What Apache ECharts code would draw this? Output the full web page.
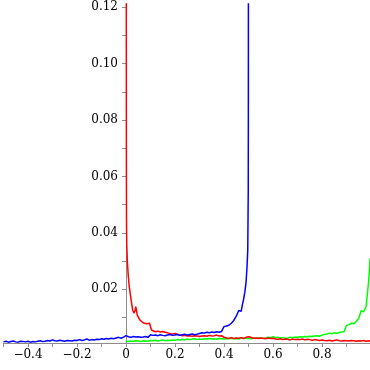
<!DOCTYPE html>
<html>
<head>
<meta charset="utf-8">
<script src="https://cdn.jsdelivr.net/npm/echarts@6/dist/echarts.min.js"></script>
<style>
html,body{margin:0;padding:0;background:#fff;}
#chart{width:370px;height:370px;}
</style>
</head>
<body>
<div id="chart"></div>
<script>
// shared sample positions (x)
const xs = [
-0.50,-0.49,-0.48,-0.47,-0.46,-0.45,-0.44,-0.43,-0.42,-0.41,
-0.40,-0.39,-0.38,-0.37,-0.36,-0.35,-0.34,-0.33,-0.32,-0.31,
-0.30,-0.29,-0.28,-0.27,-0.26,-0.25,-0.24,-0.23,-0.22,-0.21,
-0.20,-0.19,-0.18,-0.17,-0.16,-0.15,-0.14,-0.13,-0.12,-0.11,
-0.10,-0.09,-0.08,-0.07,-0.06,-0.05,-0.04,-0.03,-0.02,-0.01,
0.00,0.01,0.02,0.03,0.04,0.05,0.06,0.07,0.08,0.09,
0.10,0.11,0.12,0.13,0.14,0.15,0.16,0.17,0.18,0.19,
0.20,0.21,0.22,0.23,0.24,0.25,0.26,0.27,0.28,0.29,
0.30,0.31,0.32,0.33,0.34,0.35,0.36,0.37,0.38,0.39,
0.40,0.41,0.42,0.43,0.44,0.45,0.46,0.47,0.48,0.49,
0.50,0.51,0.52,0.53,0.54,0.55,0.56,0.57,0.58,0.59,
0.60,0.61,0.62,0.63,0.64,0.65,0.66,0.67,0.68,0.69,
0.70,0.71,0.72,0.73,0.74,0.75,0.76,0.77,0.78,0.79,
0.80,0.81,0.82,0.83,0.84,0.85,0.86,0.87,0.88,0.89,
0.90,0.91,0.92,0.93,0.94,0.95,0.96,0.97,0.98,0.99
];

// blue: values at xs -0.50 .. 0.49
const blueMain = [
0.0014,0.0016,0.0013,0.0015,0.0017,0.0014,0.0013,0.0016,0.0015,0.0014,
0.0016,0.0013,0.0015,0.0014,0.0016,0.0018,0.0015,0.0016,0.0019,0.0017,
0.0021,0.0018,0.0017,0.0020,0.0018,0.0016,0.0019,0.0018,0.0017,0.0020,
0.0019,0.0022,0.0019,0.0021,0.0024,0.0020,0.0022,0.0021,0.0023,0.0022,
0.0025,0.0023,0.0026,0.0024,0.0027,0.0025,0.0028,0.0030,0.0027,0.0031,
0.0036,0.0032,0.0030,0.0033,0.0031,0.0032,0.0030,0.0031,0.0033,0.0030,
0.0039,0.0037,0.0038,0.0036,0.0039,0.0037,0.0036,0.0038,0.0040,0.0037,
0.0038,0.0040,0.0037,0.0039,0.0041,0.0038,0.0040,0.0042,0.0039,0.0041,
0.0044,0.0046,0.0045,0.0048,0.0046,0.0049,0.0047,0.0050,0.0048,0.0051,
0.0068,0.0070,0.0073,0.0080,0.0090,0.0105,0.0125,0.0122,0.0165,0.0225
];
const blueTailX = [0.475, 0.485, 0.494, 0.497, 0.499, 0.4995, 0.4998];
const blueTailY = [0.0145, 0.0190, 0.0280, 0.0340, 0.0550, 0.0900, 0.2000];

// red: steep head near 0, then values at xs 0.11 .. 0.99
const redHeadX = [0.0008,0.0015,0.002,0.003,0.0053,0.009,0.0135,0.019,0.023,0.027,0.033,0.037,0.040,0.046,0.051,0.057,0.065,0.071,0.078,0.084,0.091,0.096,0.101,0.104];
const redHeadY = [0.2000,0.0700,0.0450,0.0360,0.0304,0.0250,0.0209,0.0174,0.0150,0.0127,0.0116,0.0125,0.0139,0.0109,0.0100,0.0091,0.0085,0.0081,0.0074,0.0078,0.0077,0.0080,0.0082,0.0056];
const redMain = [
0.0053,0.0050,0.0052,0.0049,0.0051,0.0048,0.0046,0.0043,0.0042,0.0044,
0.0041,0.0038,0.0036,0.0037,0.0035,0.0036,0.0034,0.0036,0.0035,0.0033,
0.0035,0.0036,0.0034,0.0037,0.0035,0.0036,0.0038,0.0035,0.0036,0.0030,
0.0028,0.0027,0.0029,0.0026,0.0028,0.0027,0.0029,0.0026,0.0030,0.0032,
0.0030,0.0027,0.0028,0.0026,0.0028,0.0027,0.0025,0.0028,0.0026,0.0027,
0.0024,0.0023,0.0025,0.0022,0.0024,0.0023,0.0021,0.0024,0.0022,0.0023,
0.0022,0.0024,0.0021,0.0023,0.0022,0.0020,0.0022,0.0021,0.0019,0.0021,
0.0019,0.0018,0.0020,0.0017,0.0019,0.0021,0.0018,0.0017,0.0019,0.0018,
0.0017,0.0019,0.0018,0.0016,0.0018,0.0017,0.0019,0.0016,0.0018
];
const redEndX = [0.999];
const redEndY = [0.0017];

// green: values at xs 0.00 .. 0.99, then steep tail near 1
const greenMain = [
0.0016,0.0015,0.0017,0.0016,0.0018,0.0017,0.0015,0.0018,0.0017,0.0016,
0.0019,0.0018,0.0020,0.0017,0.0019,0.0021,0.0018,0.0020,0.0019,0.0021,
0.0020,0.0022,0.0021,0.0023,0.0021,0.0024,0.0022,0.0023,0.0025,0.0022,
0.0024,0.0023,0.0025,0.0024,0.0026,0.0024,0.0025,0.0023,0.0026,0.0025,
0.0024,0.0026,0.0025,0.0027,0.0025,0.0026,0.0024,0.0027,0.0028,0.0026,
0.0027,0.0025,0.0028,0.0026,0.0029,0.0027,0.0026,0.0028,0.0030,0.0029,
0.0032,0.0029,0.0030,0.0028,0.0029,0.0027,0.0028,0.0030,0.0029,0.0031,
0.0030,0.0032,0.0031,0.0033,0.0032,0.0034,0.0033,0.0035,0.0036,0.0034,
0.0038,0.0040,0.0042,0.0045,0.0043,0.0046,0.0044,0.0047,0.0049,0.0051,
0.0072,0.0075,0.0080,0.0078,0.0086,0.0098,0.0125,0.0120,0.0140,0.0225
];
const greenTailX = [0.993, 0.996];
const greenTailY = [0.0260, 0.0310];

// axis ticks / labels
const xTickValues = [-0.5,-0.4,-0.3,-0.2,-0.1,0,0.1,0.2,0.3,0.4,0.5,0.6,0.7,0.8,0.9];
const xLabelValues = [-0.4,-0.2,0,0.2,0.4,0.6,0.8];
const yTickValues = [0.01,0.02,0.03,0.04,0.05,0.06,0.07,0.08,0.09,0.10,0.11,0.12];
const yLabelValues = [0.02,0.04,0.06,0.08,0.10,0.12];

function pairs(xArr, yArr) { return xArr.map((x, i) => [x, yArr[i]]); }
function byX(a, b) { return a[0] - b[0]; }

const xBlue = xs.slice(0, 100);
const xRed = xs.slice(61);
const xGreen = xs.slice(50);

const blueData = pairs(xBlue, blueMain).concat(pairs(blueTailX, blueTailY)).sort(byX);
const redData = pairs(redHeadX, redHeadY).concat(pairs(xRed, redMain), pairs(redEndX, redEndY)).sort(byX);
const greenData = pairs(xGreen, greenMain).concat(pairs(greenTailX, greenTailY)).sort(byX);

const axisColor = '#8c8c8c';
const labelFont = { fontFamily: '"DejaVu Serif", serif', fontSize: 12, color: '#000' };

const gridLeft = 3.5, gridWidth = 367.5, xMin = -0.5, xMax = 1.0;
// y axis sits where x = 0 on the x scale
const yAxisShift = -(0 - xMin) / (xMax - xMin) * gridWidth;

const chart = echarts.init(document.getElementById('chart'), null, { renderer: 'canvas' });
chart.setOption({
  animation: false,
  backgroundColor: '#fff',
  grid: { left: gridLeft, top: 4, width: gridWidth, height: 339, containLabel: false, outerBoundsMode: 'none' },
  xAxis: {
    type: 'value', min: xMin, max: xMax,
    splitLine: { show: false },
    axisLine: { show: true, onZero: false, lineStyle: { color: axisColor, width: 1 } },
    axisTick: { show: true, length: 4, customValues: xTickValues, lineStyle: { color: axisColor } },
    axisLabel: Object.assign({ show: true, margin: 6, customValues: xLabelValues,
      formatter: v => (Math.abs(v) < 1e-9 ? '0' : String(+v.toFixed(1)).replace('-', '\u2212')) }, labelFont)
  },
  yAxis: {
    type: 'value', min: 0.001, max: 0.1211,
    position: 'left', offset: yAxisShift,
    splitLine: { show: false },
    axisLine: { show: true, onZero: false, lineStyle: { color: axisColor, width: 1 } },
    axisTick: { show: true, length: 4, customValues: yTickValues, lineStyle: { color: axisColor } },
    axisLabel: Object.assign({ show: true, margin: 8, customValues: yLabelValues,
      formatter: v => v.toFixed(2) }, labelFont)
  },
  series: [
    { type: 'line', data: greenData, showSymbol: false, silent: true, clip: true,
      lineStyle: { color: '#00ff00', width: 1.5 } },
    { type: 'line', data: redData, showSymbol: false, silent: true, clip: true,
      lineStyle: { color: '#ff0000', width: 1.5 } },
    { type: 'line', data: blueData, showSymbol: false, silent: true, clip: true,
      lineStyle: { color: '#0000ff', width: 1.5 } }
  ]
});
</script>
</body>
</html>
